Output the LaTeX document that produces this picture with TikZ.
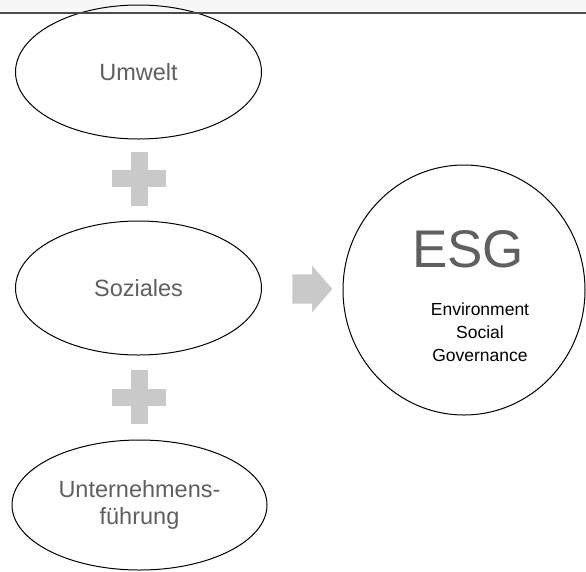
\documentclass[tikz,border=0pt]{standalone}
\usepackage{fontspec}
\setmainfont{Liberation Sans}
\usepackage{xcolor}
\usetikzlibrary{shapes.geometric}
\usetikzlibrary{shapes.arrows}

\definecolor{labelgrey}{HTML}{5F5F5F}
\definecolor{markgrey}{HTML}{C9C9C9}
\definecolor{bandgrey}{HTML}{F7F7F7}
\definecolor{linegrey}{HTML}{4A4A4A}

\tikzset{
  pillar/.style={draw, ellipse, line width=1pt, inner sep=0pt,
    minimum width=246pt, minimum height=134pt, text=labelgrey,
    align=center, font=\fontsize{23.5}{27}\selectfont},
  plussign/.pic={
    \fill[markgrey] (-27,-8.5) rectangle (27,8.5);
    \fill[markgrey] (-8.5,-27) rectangle (8.5,27);
  },
  blockarrow/.style={single arrow, fill=markgrey, inner xsep=0pt,
    inner ysep=14.5pt, minimum height=40pt,
    single arrow head extend=8.5pt, single arrow tip angle=98}
}

\begin{document}
\begin{tikzpicture}[x=1pt, y=-1pt]
  \useasboundingbox (0,0) rectangle (586,571);
  \fill[bandgrey] (0,0) rectangle (586,13);

  \node [pillar] (umwelt) at (138.5,72) {Umwelt};
  \node [pillar] (soziales) at (138.5,288) {Soziales};
  \node [pillar, minimum width=255pt, minimum height=130pt] (fuehrung) at (139.5,505) {Unternehmens-\\f\"uhrung};

  \pic (plusa) at (139,178.5) {plussign};
  \pic (plusb) at (139,397) {plussign};
  \node [blockarrow] (pfeil) at (306,289) {};

  \node [draw, ellipse, line width=1pt, minimum width=242pt, minimum height=250pt, inner sep=0pt] (esg) at (464,290) {};
  \node [anchor=base, text=labelgrey, font=\fontsize{53}{60}\selectfont] (esgtitle) at (468,267) {ESG};
  \node [align=center, font=\fontsize{17.5}{23}\selectfont] (esgtext) at (480,332) {Environment\\Social\\Governance};

  \draw [linegrey, line width=1.5pt] (0,13) -- (586,13);
\end{tikzpicture}
\end{document}
